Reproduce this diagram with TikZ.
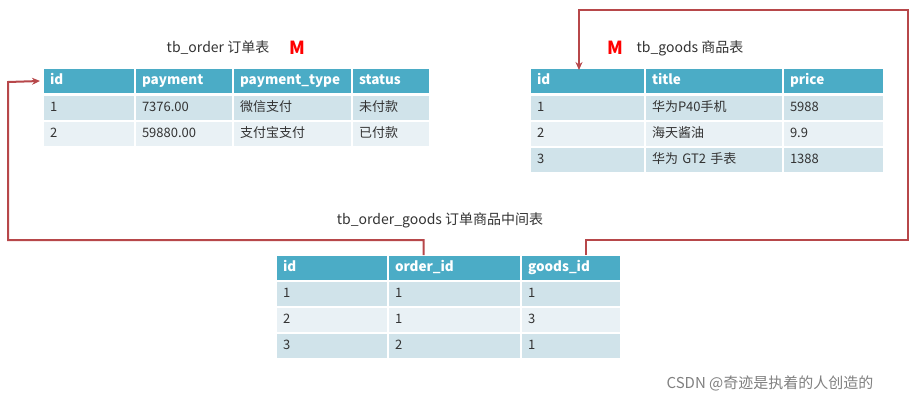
\documentclass[tikz,border=0pt]{standalone}
\usepackage{fontspec}
\setmainfont{Noto Sans CJK SC}
\usetikzlibrary{arrows.meta}
\definecolor{hd}{HTML}{4BACC6}
\definecolor{ra}{HTML}{D0E3EA}
\definecolor{rb}{HTML}{E9F1F5}
\definecolor{ln}{HTML}{B7474A}
\tikzset{
 cellb/.style={anchor=north west,inner sep=0pt,outer sep=0pt,draw=white,line width=1.5pt,text height=10pt,text depth=3pt,align=left,font=\fontsize{13}{15}\selectfont,minimum height=26pt,text width=#1-14pt,minimum width=#1},
 hcell/.style={cellb=#1,fill=hd,text=white,font=\fontsize{13.5}{15}\bfseries\selectfont},
 acell/.style={cellb=#1,fill=ra,text=black!80},
 bcell/.style={cellb=#1,fill=rb,text=black!80},
 title/.style={font=\fontsize{14}{16}\selectfont,text=black!80},
 redm/.style={font=\fontsize{18}{18}\bfseries\selectfont,text=red},
 link/.style={draw=ln,line width=2pt},
}
\begin{document}
\begin{tikzpicture}[x=1pt,y=-1pt]
\useasboundingbox (0,0) rectangle (918,404);
% order table
\node[title] (t1) at (218,48) {tb\_order 订单表};
\node[redm] (m1) at (297,48) {M};
\node[hcell=92pt] (o1) at (43,68) {id};
\node[hcell=98pt] (o2) at (135,68) {payment};
\node[hcell=119pt] (o3) at (233,68) {payment\_type};
\node[hcell=78pt] (o4) at (352,68) {status};
\node[acell=92pt] at (43,95) {1};
\node[acell=98pt] at (135,95) {7376.00};
\node[acell=119pt] at (233,95) {微信支付};
\node[acell=78pt] at (352,95) {未付款};
\node[bcell=92pt] at (43,121) {2};
\node[bcell=98pt] at (135,121) {59880.00};
\node[bcell=119pt] at (233,121) {支付宝支付};
\node[bcell=78pt] at (352,121) {已付款};
% goods table
\node[redm] (m2) at (615,48) {M};
\node[title] (t2) at (690,48) {tb\_goods 商品表};
\node[hcell=115pt] (g1) at (530,68) {id};
\node[hcell=138pt] (g2) at (645,68) {title};
\node[hcell=101pt] (g3) at (783,68) {price};
\node[acell=115pt] at (530,95) {1};
\node[acell=138pt] at (645,95) {华为P40手机};
\node[acell=101pt] at (783,95) {5988};
\node[bcell=115pt] at (530,121) {2};
\node[bcell=138pt] at (645,121) {海天酱油};
\node[bcell=101pt] at (783,121) {9.9};
\node[acell=115pt] at (530,147) {3};
\node[acell=138pt] at (645,147) {华为 GT2 手表};
\node[acell=101pt] at (783,147) {1388};
% middle table
\node[title] (t3) at (440,220) {tb\_order\_goods 订单商品中间表};
\node[hcell=112pt] (c1) at (276,255) {id};
\node[hcell=133pt] (c2) at (388,255) {order\_id};
\node[hcell=100pt] (c3) at (521,255) {goods\_id};
\node[acell=112pt] at (276,281) {1};
\node[acell=133pt] at (388,281) {1};
\node[acell=100pt] at (521,281) {1};
\node[bcell=112pt] at (276,307) {2};
\node[bcell=133pt] at (388,307) {1};
\node[bcell=100pt] at (521,307) {3};
\node[acell=112pt] at (276,333) {3};
\node[acell=133pt] at (388,333) {2};
\node[acell=100pt] at (521,333) {1};
% links
\coordinate (a0) at ([xshift=-31pt]c2.north);
\coordinate (b0) at ([xshift=15pt]c3.north);
\draw[link,-{Stealth[length=8pt,width=7pt]}] (a0) -- ++(0,-15) -| (8,82) -- ([xshift=-3pt]o1.west);
\draw[link,-{Stealth[length=8pt,width=7pt]}] (b0) -- ++(0,-15) -| (908,10) -| ([xshift=-8.5pt,yshift=-2pt]g1.north);
\node[font=\fontsize{15}{17}\selectfont,text=black!50] (w) at (770,383) {CSDN @奇迹是执着的人创造的};
\end{tikzpicture}
\end{document}
